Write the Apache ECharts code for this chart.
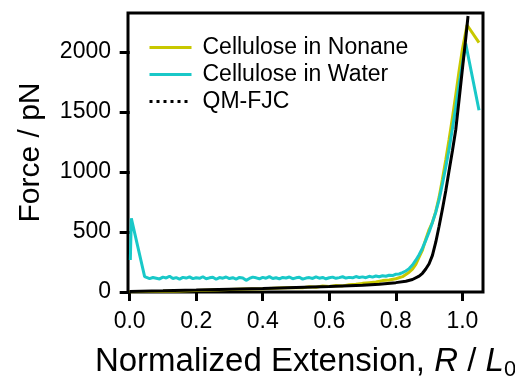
<!DOCTYPE html>
<html>
<head>
<meta charset="utf-8">
<script src="https://cdn.jsdelivr.net/npm/echarts@6/dist/echarts.min.js"></script>
<style>html,body{margin:0;padding:0;background:#fff}#c{width:515px;height:376px}</style>
</head>
<body>
<div id="c"></div>
<script>
// ---- data ----
const seriesNames = ["Cellulose in Nonane", "Cellulose in Water", "QM-FJC"];
const xTicks = [0, 0.2, 0.4, 0.6, 0.8, 1.0];
const yTicks = [0, 500, 1000, 1500, 2000];

const waterX = [0.002, 0.005, 0.045,
  0.05,0.06,0.07,0.08,0.09,0.10,0.11,0.12,0.13,0.14,0.15,0.16,0.17,0.18,0.19,0.20,
  0.21,0.22,0.23,0.24,0.25,0.26,0.27,0.28,0.29,0.30,0.31,0.32,0.33,0.34,0.35,0.36,
  0.37,0.38,0.39,0.40,0.41,0.42,0.43,0.44,0.45,0.46,0.47,0.48,0.49,0.50,0.51,0.52,
  0.53,0.54,0.55,0.56,0.57,0.58,0.59,0.60,0.61,0.62,0.63,0.64,0.65,0.66,0.67,0.68,
  0.69,0.70,0.71,0.72,0.73,0.74,0.75,0.76,0.77,0.78,0.79,0.80,0.81,0.82,0.83,0.84,
  0.85,0.86,0.87,0.88,0.89,0.90,0.91,0.92,0.93,0.94,0.95,0.96,0.97,0.98,0.99,1.00,
  1.01,1.05];
const waterY = [267, 614, 128,
  118,112,121,115,109,124,117,131,113,120,108,122,116,126,111,119,
  114,127,110,118,123,106,120,115,125,112,119,108,121,116,97,113,
  124,118,110,122,115,128,112,119,109,121,117,125,111,118,123,107,
  116,120,113,126,115,121,110,119,124,114,120,127,116,122,118,129,
  121,126,119,131,124,133,127,135,131,140,137,148,150,162,175,195,
  225,265,310,365,430,500,580,665,770,900,1040,1190,1360,1540,1730,1900,
  2070,1515];

const nonaneX = [0.0,0.05,0.10,0.15,0.20,0.25,0.30,0.35,0.40,0.45,0.50,0.52,0.54,0.56,0.58,
  0.60,0.62,0.64,0.66,0.68,0.70,0.72,0.74,0.76,0.78,0.80,0.82,0.84,0.85,0.86,0.87,
  0.88,0.89,0.90,0.91,0.92,0.93,0.94,0.95,0.96,0.97,0.98,0.99,1.00,1.014,1.05];
const nonaneY = [2,4,6,9,12,16,20,24,28,33,38,35,44,40,50,
  46,55,51,60,64,72,78,84,95,100,110,128,165,190,230,290,
  350,440,520,580,670,790,940,1100,1270,1450,1640,1840,2020,2225,2078];

const fjcX = [0.0,0.1,0.2,0.3,0.4,0.5,0.6,0.7,0.75,0.8,0.83,0.85,0.87,0.88,0.89,0.90,0.91,
  0.92,0.93,0.94,0.95,0.96,0.97,0.98,0.99,1.00,1.01,1.017];
const fjcY = [5,10,16,23,30,38,46,56,65,78,90,104,132,156,192,235,305,
  415,548,690,842,1010,1175,1350,1600,1855,2110,2300];

const pairs = (xs, ys) => xs.map((x, i) => [x, ys[i]]);

const font = "'Liberation Sans', Arial, sans-serif";
const noSym = {color: 'rgba(0,0,0,0)', borderWidth: 0, opacity: 0};
const cYellow = '#c8c800', cCyan = '#19c8c8';
const chart = echarts.init(document.getElementById('c'), null, {renderer: 'canvas'});
chart.setOption({
  animation: false,
  backgroundColor: '#fff',
  grid: {left: 128, right: 32, top: 13, bottom: 84, show: true, borderColor: '#000', borderWidth: 3,
         backgroundColor: 'transparent', containLabel: false, outerBoundsMode: 'none'},
  legend: {
    orient: 'vertical', left: 148, top: 36, padding: 0,
    itemWidth: 42, itemHeight: 14, itemGap: 4,
    itemStyle: noSym,
    textStyle: {fontFamily: font, fontSize: 23, color: '#000', lineHeight: 22, padding: [0,0,0,6]},
    data: [
      {name: seriesNames[0], itemStyle: noSym, lineStyle: {width: 3, color: cYellow}},
      {name: seriesNames[1], itemStyle: noSym, lineStyle: {width: 3, color: cCyan}},
      {name: seriesNames[2], itemStyle: noSym, lineStyle: {type: [3, 4], width: 3, color: '#000'}}
    ]
  },
  xAxis: {
    type: 'value', min: -0.005, max: 1.062,
    axisLine: {show: false},
    splitLine: {show: false},
    axisTick: {show: true, inside: false, length: 9, lineStyle: {color: '#000', width: 3}, customValues: xTicks},
    axisLabel: {margin: 18, fontFamily: font, fontSize: 23, color: '#000', customValues: xTicks,
                formatter: v => v.toFixed(1)},
    name: 'Normalized Extension, {i|R} / {i|L}{s|0}',
    nameLocation: 'middle', nameGap: 51,
    nameTextStyle: {fontFamily: font, fontSize: 33, color: '#000',
      rich: {i: {fontFamily: font, fontSize: 33, fontStyle: 'italic', color: '#000'},
             s: {fontFamily: font, fontSize: 22, color: '#000', padding: [16, 0, 0, 0]}}}
  },
  yAxis: {
    type: 'value', min: 0, max: 2325,
    axisLine: {show: false},
    splitLine: {show: false},
    axisTick: {show: true, inside: false, length: 10, lineStyle: {color: '#000', width: 3}, customValues: yTicks},
    axisLabel: {margin: 17, fontFamily: font, fontSize: 23, color: '#000', customValues: yTicks,
                formatter: v => String(v)},
    name: 'Force / pN', nameLocation: 'middle', nameRotate: 90, nameGap: 82,
    nameTextStyle: {fontFamily: font, fontSize: 30, color: '#000'}
  },
  series: [
    {name: seriesNames[0], type: 'line', data: pairs(nonaneX, nonaneY), showSymbol: false, symbol: 'none',
     lineStyle: {color: cYellow, width: 3}, itemStyle: {color: cYellow}, z: 2},
    {name: seriesNames[1], type: 'line', data: pairs(waterX, waterY), showSymbol: false, symbol: 'none',
     lineStyle: {color: cCyan, width: 3}, itemStyle: {color: cCyan}, z: 3},
    {name: seriesNames[2], type: 'line', data: pairs(fjcX, fjcY), showSymbol: false, symbol: 'none',
     lineStyle: {color: '#000', width: 3}, itemStyle: {color: '#000'}, z: 4}
  ]
});
</script>
</body>
</html>
